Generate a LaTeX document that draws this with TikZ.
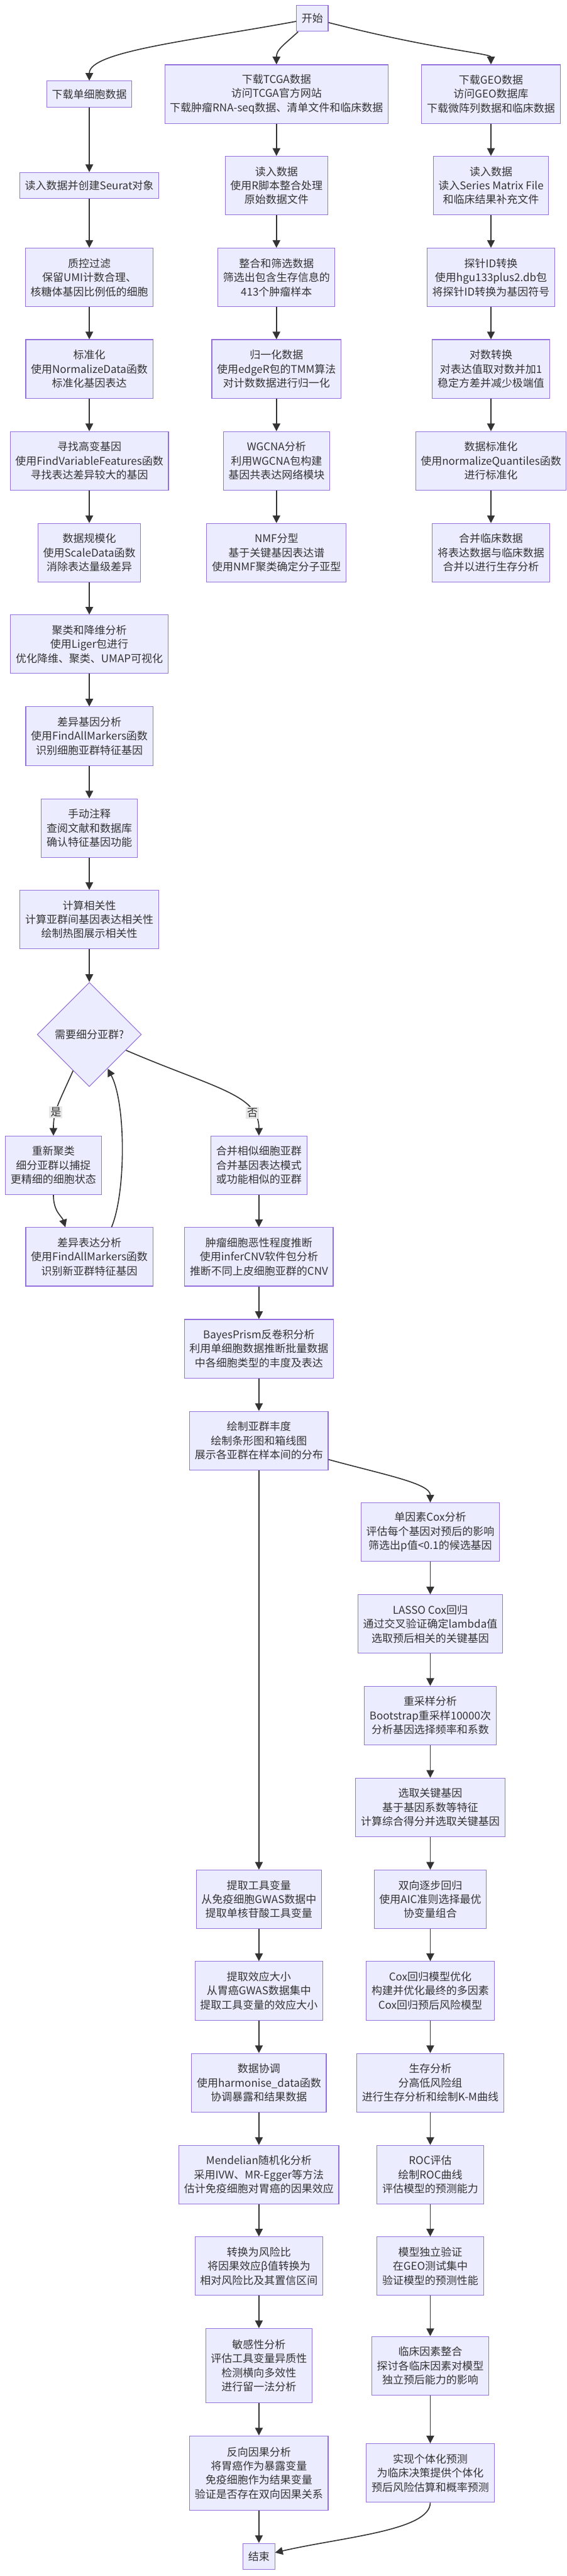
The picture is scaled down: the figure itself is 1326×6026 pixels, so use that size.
\documentclass[tikz,border=0pt]{standalone}
\usepackage{fontspec}
\setmainfont{Noto Sans CJK SC}
\usepackage{tikz}
\usetikzlibrary{shapes,arrows.meta,calc,positioning,shapes.geometric}
\definecolor{boxfill}{HTML}{ECECFF}
\definecolor{boxline}{HTML}{9370DB}
\definecolor{linegray}{HTML}{333333}
\definecolor{labelfill}{HTML}{E8E8E8}
\tikzset{
>={Triangle[length=9pt,width=9pt]},
  process/.style={
    rectangle,
    fill=boxfill,
    draw=boxline, line width=0.8pt,
    inner xsep=6pt,
    minimum height=68.5pt,
    align=center},
  terminal/.style={process, minimum height=30.5pt},
  process4/.style={process, minimum height=87pt},
  decision/.style={
    diamond, aspect=1,
    fill=boxfill,
    draw=boxline, line width=0.8pt,
    minimum width=122pt, minimum height=122pt,
    inner sep=0pt, align=center},
  line/.style={draw=linegray, line width=1.2pt, ->},
  edgelabel/.style={fill=labelfill, inner sep=1.5pt},
}
\begin{document}
\begin{tikzpicture}[
    x=0.5pt, y=-0.5pt,
    every node/.style={font=\fontsize{12.5pt}{16.5pt}\selectfont, text=linegray}
    ]
    \useasboundingbox (0,0) rectangle (1326,6026);

    %start and downloads
    \node[terminal] (start) at (731,43) {开始};
    \node[terminal] (sc) at (209,220) {下载单细胞数据};
    \node[process] (tcga) at (647,220) {下载TCGA数据\\访问TCGA官方网站\\下载肿瘤RNA-seq数据、清单文件和临床数据};
    \node[process] (geo) at (1149,220) {下载GEO数据\\访问GEO数据库\\下载微阵列数据和临床数据};

    %single cell branch
    \node[terminal] (seurat) at (209,434) {读入数据并创建Seurat对象};
    \node[process] (qc) at (209,649) {质控过滤\\保留UMI计数合理、\\核糖体基因比例低的细胞};
    \node[process] (norm) at (209,863) {标准化\\使用NormalizeData函数\\标准化基因表达};
    \node[process] (hvg) at (209,1078) {寻找高变基因\\使用FindVariableFeatures函数\\寻找表达差异较大的基因};
    \node[process] (scale) at (209,1293) {数据规模化\\使用ScaleData函数\\消除表达量级差异};
    \node[process] (clust) at (209,1507) {聚类和降维分析\\使用Liger包进行\\优化降维、聚类、UMAP可视化};
    \node[process] (deg) at (209,1722) {差异基因分析\\使用FindAllMarkers函数\\识别细胞亚群特征基因};
    \node[process] (annot) at (209,1937) {手动注释\\查阅文献和数据库\\确认特征基因功能};
    \node[process] (corr) at (209,2151) {计算相关性\\计算亚群间基因表达相关性\\绘制热图展示相关性};
    \node[decision] (dec) at (209,2420) {需要细分亚群?};
    \node[process] (recl) at (125,2726) {重新聚类\\细分亚群以捕捉\\更精细的细胞状态};
    \node[process] (deg2) at (209,2940) {差异表达分析\\使用FindAllMarkers函数\\识别新亚群特征基因};

    %TCGA branch
    \node[process] (tread) at (647,434) {读入数据\\使用R脚本整合处理\\原始数据文件};
    \node[process] (integ) at (647,649) {整合和筛选数据\\筛选出包含生存信息的\\413个肿瘤样本};
    \node[process] (tmm) at (647,863) {归一化数据\\使用edgeR包的TMM算法\\对计数数据进行归一化};
    \node[process] (wgcna) at (647,1078) {WGCNA分析\\利用WGCNA包构建\\基因共表达网络模块};
    \node[process] (nmf) at (647,1293) {NMF分型\\基于关键基因表达谱\\使用NMF聚类确定分子亚型};

    %GEO branch
    \node[process] (gread) at (1149,434) {读入数据\\读入Series Matrix File\\和临床结果补充文件};
    \node[process] (probe) at (1149,649) {探针ID转换\\使用hgu133plus2.db包\\将探针ID转换为基因符号};
    \node[process] (logt) at (1149,863) {对数转换\\对表达值取对数并加1\\稳定方差并减少极端值};
    \node[process] (quant) at (1149,1078) {数据标准化\\使用normalizeQuantiles函数\\进行标准化};
    \node[process] (clin0) at (1149,1293) {合并临床数据\\将表达数据与临床数据\\合并以进行生存分析};

    %merged subgroups and deconvolution
    \node[process] (merge) at (606,2726) {合并相似细胞亚群\\合并基因表达模式\\或功能相似的亚群};
    \node[process] (cnv) at (606,2940) {肿瘤细胞恶性程度推断\\使用inferCNV软件包分析\\推断不同上皮细胞亚群的CNV};
    \node[process] (bayes) at (606,3155) {BayesPrism反卷积分析\\利用单细胞数据推断批量数据\\中各细胞类型的丰度及表达};
    \node[process] (abund) at (606,3370) {绘制亚群丰度\\绘制条形图和箱线图\\展示各亚群在样本间的分布};

    %Mendelian randomization
    \node[process] (iv) at (606,4443) {提取工具变量\\从免疫细胞GWAS数据中\\提取单核苷酸工具变量};
    \node[process] (effect) at (606,4657) {提取效应大小\\从胃癌GWAS数据集中\\提取工具变量的效应大小};
    \node[process] (harm) at (606,4872) {数据协调\\使用harmonise\_data函数\\协调暴露和结果数据};
    \node[process] (mr) at (606,5087) {Mendelian随机化分析\\采用IVW、MR-Egger等方法\\估计免疫细胞对胃癌的因果效应};
    \node[process] (hr) at (606,5301) {转换为风险比\\将因果效应β值转换为\\相对风险比及其置信区间};
    \node[process4] (sens) at (606,5534) {敏感性分析\\评估工具变量异质性\\检测横向多效性\\进行留一法分析};
    \node[process4] (rev) at (606,5785) {反向因果分析\\将胃癌作为暴露变量\\免疫细胞作为结果变量\\验证是否存在双向因果关系};
    \node[terminal] (end) at (606,5980) {结束};

    %prognostic model
    \node[process] (cox1) at (1007,3584) {单因素Cox分析\\评估每个基因对预后的影响\\筛选出p值<0.1的候选基因};
    \node[process] (lasso) at (1007,3799) {LASSO Cox回归\\通过交叉验证确定lambda值\\选取预后相关的关键基因};
    \node[process] (boot) at (1007,4013) {重采样分析\\Bootstrap重采样10000次\\分析基因选择频率和系数};
    \node[process] (key) at (1007,4228) {选取关键基因\\基于基因系数等特征\\计算综合得分并选取关键基因};
    \node[process] (stepw) at (1007,4443) {双向逐步回归\\使用AIC准则选择最优\\协变量组合};
    \node[process] (coxopt) at (1007,4657) {Cox回归模型优化\\构建并优化最终的多因素\\Cox回归预后风险模型};
    \node[process] (surv) at (1007,4872) {生存分析\\分高低风险组\\进行生存分析和绘制K-M曲线};
    \node[process] (roc) at (1007,5087) {ROC评估\\绘制ROC曲线\\评估模型的预测能力};
    \node[process] (indep) at (1007,5301) {模型独立验证\\在GEO测试集中\\验证模型的预测性能};
    \node[process] (clinf) at (1007,5534) {临床因素整合\\探讨各临床因素对模型\\独立预后能力的影响};
    \node[process] (indiv) at (1007,5785) {实现个体化预测\\为临床决策提供个体化\\预后风险估算和概率预测};

    %edges from start
    \draw[line] (start) .. controls (450,95) and (209,120) .. (sc);
    \draw[line] (start) .. controls (665,105) and (647,115) .. (tcga);
    \draw[line] (start) .. controls (1010,115) and (1149,125) .. (geo);

    %straight chains
    \foreach \a/\b in {sc/seurat, seurat/qc, qc/norm, norm/hvg, hvg/scale, scale/clust,
        clust/deg, deg/annot, annot/corr, corr/dec,
        tcga/tread, tread/integ, integ/tmm, tmm/wgcna, wgcna/nmf,
        geo/gread, gread/probe, probe/logt, logt/quant, quant/clin0,
        merge/cnv, cnv/bayes, bayes/abund, abund/iv,
        iv/effect, effect/harm, harm/mr, mr/hr, hr/sens, sens/rev, rev/end,
        cox1/lasso, lasso/boot, boot/key, key/stepw, stepw/coxopt, coxopt/surv,
        surv/roc, roc/indep, indep/clinf, clinf/indiv}
        \draw[line] (\a) -- (\b);

    %decision
    \draw[line] (dec) .. controls (135,2585) and (125,2600) .. (recl)
        node[edgelabel, pos=0.6] {是};
    \draw[line] (dec) .. controls (500,2545) and (606,2560) .. (merge)
        node[edgelabel, pos=0.78] {否};
    \draw[line] (recl) .. controls (125,2835) and (145,2845) .. ([xshift=-28pt]deg2.north);
    \draw[line] ([xshift=26pt]deg2.north) .. controls (295,2790) and (295,2580) .. (dec);

    %side branches
    \draw[line] (abund) .. controls (900,3450) and (1007,3470) .. (cox1);
    \draw[line] (indiv) .. controls (1007,5920) and (800,5935) .. (end);

\end{tikzpicture}
\end{document}
